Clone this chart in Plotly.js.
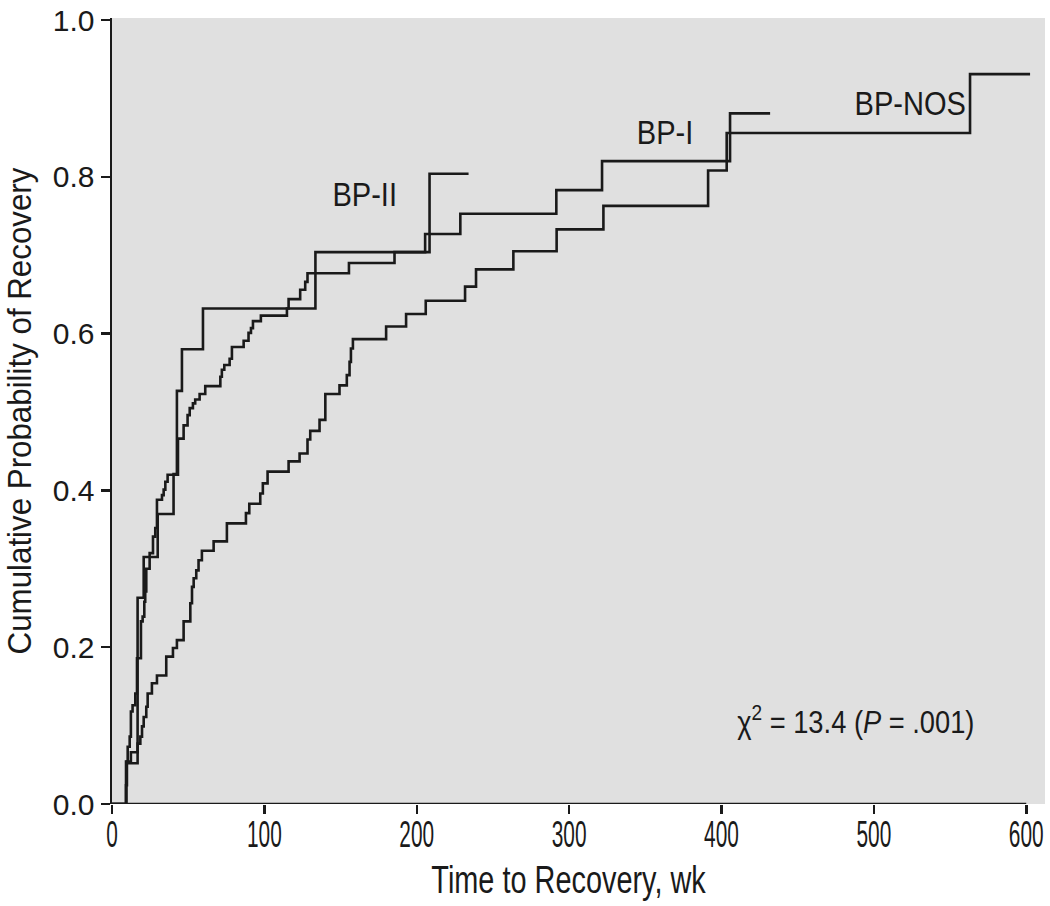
<!DOCTYPE html>
<html>
<head>
<meta charset="utf-8">
<script src="https://cdn.plot.ly/plotly-3.0.1.min.js"></script>
<style>
  html, body { margin: 0; padding: 0; background: #fff; }
  #plot { width: 1050px; height: 906px; }
</style>
</head>
<body>
<div id="plot"></div>
<script>
// Kaplan-Meier style step curves (weeks, cumulative probability)
var bp2Weeks = [0, 9.4, 16.8, 20.8, 30.0, 40.4, 42.6, 45.9, 59.7, 133.5, 208.4, 234.0];
var bp2Prob  = [0, 0.052, 0.263, 0.315, 0.370, 0.421, 0.527, 0.580, 0.632, 0.704, 0.804, 0.804];

var bp1Weeks = [0, 9.2, 9.8, 10.3, 11.6, 12.4, 13.5, 15.3, 16.4, 19.0,
                20.1, 21.2, 21.8, 22.5, 24.7, 26.9, 28.4, 29.5, 32.8, 33.9,
                35.0, 36.5, 43.3, 47.0, 49.6, 51.0, 53.1, 54.6, 57.5, 61.2,
                71.1, 72.1, 73.7, 77.2, 78.7, 86.4, 89.6, 91.2, 92.5, 97.7,
                114.8, 115.9, 123.5, 126.8, 128.3, 155.5, 185.4, 205.5, 228.6, 291.6,
                321.6, 405.6, 431.9];
var bp1Prob  = [0, 0.024, 0.054, 0.073, 0.086, 0.118, 0.126, 0.141, 0.186, 0.233,
                0.239, 0.258, 0.271, 0.300, 0.320, 0.341, 0.352, 0.388, 0.394, 0.401,
                0.411, 0.420, 0.466, 0.483, 0.496, 0.505, 0.511, 0.516, 0.523, 0.533,
                0.545, 0.554, 0.560, 0.568, 0.583, 0.591, 0.601, 0.607, 0.616, 0.623,
                0.632, 0.644, 0.656, 0.666, 0.677, 0.690, 0.704, 0.727, 0.753, 0.783,
                0.820, 0.881, 0.881];

var nosWeeks = [0, 9.2, 12.4, 16.8, 18.6, 19.7, 20.8, 22.5, 23.4, 26.2,
                29.5, 35.6, 40.0, 42.6, 47.0, 51.4, 52.5, 53.6, 55.3, 56.8,
                59.0, 66.7, 75.4, 87.9, 90.1, 97.3, 99.0, 102.1, 115.9, 123.1,
                128.3, 130.1, 136.2, 140.0, 149.3, 154.1, 155.9, 156.8, 158.1, 179.9,
                193.0, 205.9, 231.7, 238.9, 263.4, 291.8, 322.5, 391.2, 403.4, 563.1,
                602.5];
var nosProb  = [0, 0.054, 0.066, 0.077, 0.086, 0.099, 0.111, 0.124, 0.141, 0.154,
                0.164, 0.188, 0.199, 0.209, 0.233, 0.256, 0.277, 0.288, 0.298, 0.311,
                0.323, 0.335, 0.358, 0.371, 0.383, 0.396, 0.409, 0.424, 0.437, 0.447,
                0.465, 0.476, 0.490, 0.523, 0.534, 0.547, 0.564, 0.581, 0.593, 0.609,
                0.625, 0.642, 0.660, 0.682, 0.705, 0.733, 0.763, 0.808, 0.856, 0.931,
                0.931];

var xTicks = [0, 100, 200, 300, 400, 500, 600];
var yTicks = [0, 0.2, 0.4, 0.6, 0.8, 1.0];

var sans = "Liberation Sans, Arial, sans-serif";
var ink = "#1a1a1a";

function stepLine(x, y, name) {
    return {
        x: x, y: y, name: name,
        type: "scatter", mode: "lines",
        line: {shape: "hv", color: ink, width: 2.6},
        hoverinfo: "x+y+name"
    };
}

var data = [
    stepLine(nosWeeks, nosProb, "BP-NOS"),
    stepLine(bp1Weeks, bp1Prob, "BP-I"),
    stepLine(bp2Weeks, bp2Prob, "BP-II")
];

var layout = {
    width: 1050,
    height: 906,
    margin: {l: 112, r: 5, t: 18, b: 102},
    paper_bgcolor: "#ffffff",
    plot_bgcolor: "#e0e0e0",
    showlegend: false,
    font: {family: sans, color: ink},
    xaxis: {
        range: [0, 612.3],
        tickvals: xTicks,
        ticks: "outside", ticklen: 9, tickwidth: 2.5, tickcolor: ink,
        ticklabeloverflow: "allow",
        ticklabelstandoff: -10,
        showline: false, showgrid: false, zeroline: false,
        tickfont: {family: sans, size: 36, color: ink}
    },
    yaxis: {
        range: [0, 1.0026],
        tickvals: yTicks,
        tickformat: ".1f",
        ticks: "outside", ticklen: 9, tickwidth: 2.5, tickcolor: ink,
        showline: true, linecolor: ink, linewidth: 2.5,
        showgrid: false, zeroline: false,
        tickfont: {family: sans, size: 30, color: ink},
        title: {text: "Cumulative Probability of Recovery", font: {family: sans, size: 34, color: ink}, standoff: 12}
    },
    shapes: [
        // bottom axis line only runs to the last tick
        {type: "line", xref: "x", yref: "y", x0: 0, x1: 600, y0: 0, y1: 0,
         line: {color: ink, width: 2.5}, layer: "above"}
    ],
    annotations: [
        // x axis title, centred under the 0-600 axis line
        {x: 300, y: -0.097, xref: "x", yref: "paper", yanchor: "middle",
         text: "Time to Recovery, wk", showarrow: false,
         font: {family: sans, size: 38, color: ink}},
        {x: 166, y: 0.777, xref: "x", yref: "y", text: "BP-II", showarrow: false,
         font: {family: sans, size: 33, color: ink}},
        {x: 363, y: 0.856, xref: "x", yref: "y", text: "BP-I", showarrow: false,
         font: {family: sans, size: 33, color: ink}},
        {x: 524, y: 0.894, xref: "x", yref: "y", text: "BP-NOS", showarrow: false,
         font: {family: sans, size: 33, color: ink}},
        {x: 488, y: 0.107, xref: "x", yref: "y", showarrow: false,
         text: "\u03c7<sup>2</sup> = 13.4 (<i>P</i> = .001)",
         font: {family: sans, size: 31, color: ink}}
    ]
};

// the original uses a condensed face; squeeze the glyphs horizontally to match
function squeeze(nodes, factor) {
    nodes.forEach(function (t) {
        var w = t.getComputedTextLength();
        if (w > 0) {
            t.setAttribute("textLength", (w * factor).toFixed(1));
            t.setAttribute("lengthAdjust", "spacingAndGlyphs");
        }
    });
}

Plotly.newPlot("plot", data, layout, {staticPlot: true}).then(function (gd) {
    var notes = gd.querySelectorAll(".annotation-text");
    squeeze(gd.querySelectorAll(".xtick text"), 0.58);
    squeeze(gd.querySelectorAll(".g-ytitle text"), 0.92);
    squeeze([notes[0]], 0.76);
    squeeze([notes[1], notes[2], notes[3], notes[4]], 0.88);
});
</script>
</body>
</html>
